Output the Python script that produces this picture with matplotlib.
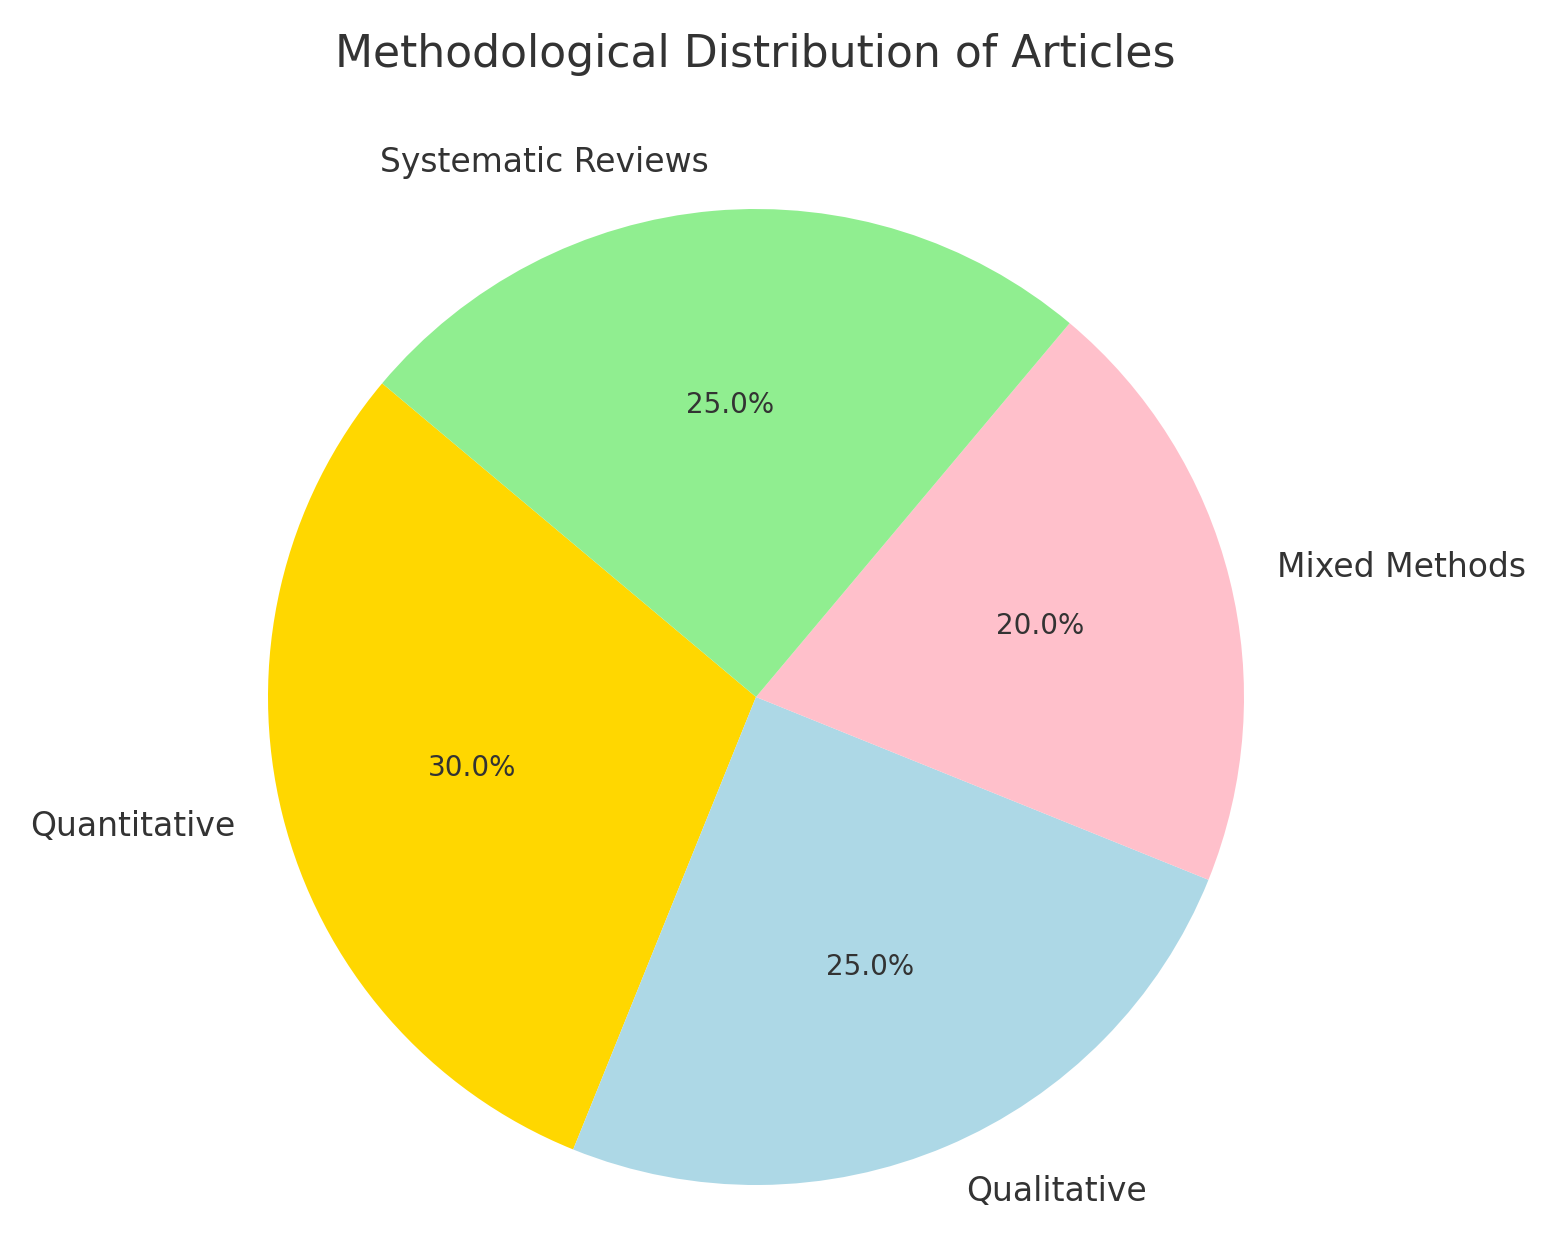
import matplotlib.pyplot as plt

# data
labels = ['Quantitative', 'Qualitative', 'Mixed Methods', 'Systematic Reviews']
shares = [30, 25, 20, 25]
colors = ['gold', 'lightblue', 'pink', 'lightgreen']

W, H = 1550, 1233
fig = plt.figure(figsize=(W / 100, H / 100), dpi=100)

# pie centre and radius in pixels
cx, cy, r = 756, 697, 488
ax = fig.add_axes([0, 0, 1, 1])
wedges, texts, autotexts = ax.pie(shares, labels=labels, colors=colors,
                                  autopct='%1.1f%%', startangle=140,
                                  textprops={'fontsize': 23.8, 'color': '#333333'})
for t in autotexts:
    t.set_fontsize(20)
ax.set_xlim(-cx / r, (W - cx) / r)
ax.set_ylim(-(H - cy) / r, cy / r)
ax.set_aspect('auto')
ax.axis('off')

fig.text(755 / W, 1 - 55 / H, 'Methodological Distribution of Articles',
         ha='center', va='center', fontsize=31.8, color='#333333')

fig.savefig('out.png', dpi=100, facecolor='white')
